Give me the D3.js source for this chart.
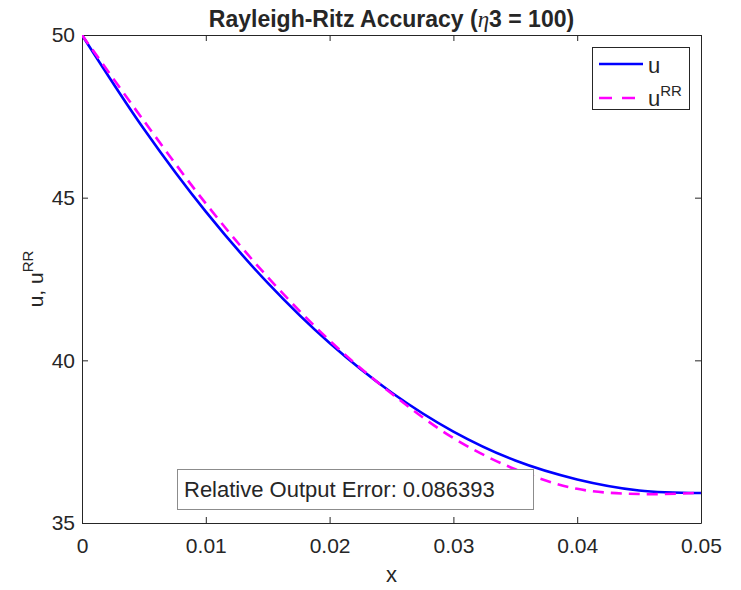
<!DOCTYPE html>
<html><head><meta charset="utf-8">
<script src="https://cdn.jsdelivr.net/npm/d3@7"></script>
<style>body{margin:0;background:#fff}svg{display:block}text{font-family:"Liberation Sans",Arial,Helvetica,sans-serif;fill:#262626}</style>
</head><body>
<script>
const xs   = [0, 0.005, 0.01, 0.015, 0.02, 0.025, 0.03, 0.035, 0.04, 0.045, 0.05];
const uVals  = [50, 47.11, 44.57, 42.38, 40.53, 39.01, 37.81, 36.92, 36.34, 36.0, 35.92];
const uRRVals= [50, 47.36, 44.82, 42.56, 40.61, 38.98, 37.61, 36.65, 36.05, 35.89, 35.93];
const xTicks = [0, 0.01, 0.02, 0.03, 0.04, 0.05];
const xTickLabels = ["0", "0.01", "0.02", "0.03", "0.04", "0.05"];
const yTicks = [35, 40, 45, 50];
const errorText = "Relative Output Error: 0.086393";

const W = 741, H = 590;
const m = {l: 82, r: 40, t: 35, b: 67};
const svg = d3.select("body").append("svg").attr("width", W).attr("height", H);
const x = d3.scaleLinear().domain([0, 0.05]).range([m.l, W - m.r]);
const y = d3.scaleLinear().domain([35, 50]).range([H - m.b, m.t]);
const axC = "#262626";

svg.append("clipPath").attr("id", "c").append("rect")
  .attr("x", m.l).attr("y", m.t).attr("width", x.range()[1] - m.l).attr("height", y.range()[0] - m.t);

const xa = svg.append("g").attr("transform", `translate(0,${y(35)})`)
  .call(d3.axisBottom(x).tickValues(xTicks).tickFormat((d, i) => xTickLabels[i]).tickSizeInner(-6).tickSizeOuter(0).tickPadding(15));
const xt = svg.append("g").attr("transform", `translate(0,${y(50)})`)
  .call(d3.axisTop(x).tickValues(xTicks).tickFormat("").tickSizeInner(-6).tickSizeOuter(0));
const ya = svg.append("g").attr("transform", `translate(${x(0)},0)`)
  .call(d3.axisLeft(y).tickValues(yTicks).tickSizeInner(-6).tickSizeOuter(0).tickPadding(7));
const yr = svg.append("g").attr("transform", `translate(${x(0.05)},0)`)
  .call(d3.axisRight(y).tickValues(yTicks).tickFormat("").tickSizeInner(-6).tickSizeOuter(0));
[xa, xt, ya, yr].forEach(g => {
  g.selectAll("path,line").attr("stroke", axC).attr("stroke-width", 1);
  g.selectAll("text").attr("font-size", 21).attr("fill", axC).style("font-family", '"Liberation Sans",Arial,sans-serif');
});

const line = vals => d3.line().x((d, i) => x(xs[i])).y(d => y(d)).curve(d3.curveCatmullRom.alpha(0.5))(vals);
svg.append("path").attr("d", line(uVals)).attr("fill", "none").attr("stroke", "#0000ff")
  .attr("stroke-width", 2.6).attr("clip-path", "url(#c)");
svg.append("path").attr("d", line(uRRVals)).attr("fill", "none").attr("stroke", "#ff00ff")
  .attr("stroke-width", 2.6).attr("stroke-dasharray", "11,7").attr("clip-path", "url(#c)");

const t = svg.append("text").attr("x", (x(0) + x(0.05)) / 2).attr("y", 27).attr("text-anchor", "middle")
  .attr("font-size", 23).attr("font-weight", "bold").attr("fill", "#000");
t.append("tspan").text("Rayleigh-Ritz Accuracy (");
t.append("tspan").text("η").attr("font-style", "italic").attr("font-weight", "normal").style("font-family", '"Liberation Serif","DejaVu Serif",serif');
t.append("tspan").text("3 = 100)");

svg.append("text").attr("x", (x(0) + x(0.05)) / 2).attr("y", 582).attr("text-anchor", "middle")
  .attr("font-size", 22).text("x");
const yl = svg.append("text").attr("transform", `translate(43,${(y(35) + y(50)) / 2}) rotate(-90)`)
  .attr("text-anchor", "middle").attr("font-size", 21);
yl.append("tspan").text("u, u");
yl.append("tspan").text("RR").attr("font-size", 15).attr("dy", -10);

const lg = svg.append("g");
lg.append("rect").attr("x", 592.5).attr("y", 47.5).attr("width", 97).attr("height", 62)
  .attr("fill", "#fff").attr("stroke", axC).attr("stroke-width", 1);
lg.append("line").attr("x1", 599).attr("x2", 643).attr("y1", 64).attr("y2", 64)
  .attr("stroke", "#0000ff").attr("stroke-width", 2.6);
lg.append("text").attr("x", 648).attr("y", 73).attr("font-size", 22).text("u");
lg.append("line").attr("x1", 599).attr("x2", 643).attr("y1", 98).attr("y2", 98)
  .attr("stroke", "#ff00ff").attr("stroke-width", 2.6).attr("stroke-dasharray", "13,10");
const lt = lg.append("text").attr("x", 648).attr("y", 106).attr("font-size", 22);
lt.append("tspan").text("u");
lt.append("tspan").text("RR").attr("font-size", 15).attr("dy", -10);

svg.append("rect").attr("x", 177.5).attr("y", 469.5).attr("width", 356).attr("height", 40)
  .attr("fill", "#fff").attr("stroke", "#8c8c8c").attr("stroke-width", 1);
svg.append("text").attr("x", 184).attr("y", 497).attr("font-size", 22).attr("fill", "#000").text(errorText);
</script>
</body></html>
